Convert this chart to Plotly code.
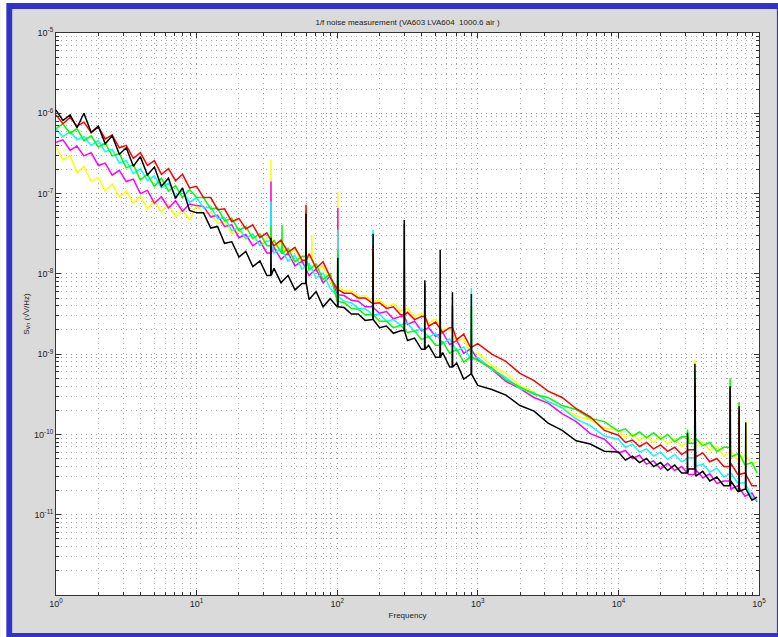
import plotly.graph_objects as go

# Frequency grid (Hz)
freq = [1.0, 1.12, 1.26, 1.41, 1.58, 1.78, 2.0, 2.24, 2.51, 2.82, 3.16, 3.55, 3.98, 4.47, 5.01, 5.62, 6.31, 7.08, 7.94, 8.91,
        10.0, 11.2, 12.6, 14.1, 15.8, 17.8, 20.0, 22.4, 25.1, 28.2, 31.6, 35.5, 39.8, 44.7, 50.1, 56.2, 63.1, 70.8, 79.4, 89.1,
        100, 112, 126, 141, 158, 178, 200, 224, 251, 282, 316, 355, 398, 447, 501, 562, 631, 708, 794, 891,
        1000, 1259, 1585, 1995, 2512, 3162, 3981, 5012, 6310, 7943,
        10000, 11220, 12590, 14130, 15850, 17780, 19950, 22390, 25120, 28180, 31620, 35480, 39810, 44670, 50120,
        56230, 63100, 70790, 79430, 89130, 97000]

# log10 of noise density
red_log = [-6.02, -6.13, -6.05, -6.16, -6.11, -6.24, -6.17, -6.32, -6.27, -6.43, -6.40, -6.56, -6.49, -6.65, -6.59, -6.76, -6.69, -6.84, -6.76, -6.93,
           -6.91, -7.05, -7.05, -7.20, -7.19, -7.35, -7.31, -7.44, -7.39, -7.55, -7.49, -7.65, -7.58, -7.73, -7.67, -7.83, -7.75, -7.93, -7.85, -8.04,
           -8.19, -8.24, -8.24, -8.30, -8.30, -8.37, -8.36, -8.43, -8.41, -8.51, -8.48, -8.57, -8.53, -8.65, -8.60, -8.73, -8.67, -8.82, -8.75, -8.92,
           -8.87, -9.00, -9.09, -9.24, -9.33, -9.46, -9.54, -9.68, -9.78, -9.95,
           -10.01, -10.10, -10.07, -10.15, -10.10, -10.18, -10.13, -10.21, -10.16, -10.25, -10.19, -10.28, -10.23, -10.34, -10.30,
           -10.40, -10.36, -10.50, -10.48, -10.64, -10.64]
green_log = [-6.19, -6.13, -6.25, -6.19, -6.34, -6.28, -6.42, -6.37, -6.53, -6.50, -6.68, -6.64, -6.83, -6.76, -6.91, -6.81, -6.97, -6.90, -7.05, -6.95,
             -7.05, -7.05, -7.19, -7.18, -7.34, -7.31, -7.46, -7.41, -7.56, -7.50, -7.65, -7.58, -7.75, -7.68, -7.85, -7.78, -7.95, -7.88, -8.07, -8.00,
             -8.34, -8.36, -8.43, -8.44, -8.51, -8.51, -8.59, -8.59, -8.67, -8.64, -8.73, -8.71, -8.82, -8.78, -8.89, -8.84, -8.99, -8.94, -9.10, -9.03,
             -9.08, -9.17, -9.32, -9.41, -9.50, -9.54, -9.64, -9.69, -9.80, -9.84,
             -9.96, -9.93, -10.02, -9.97, -10.04, -9.98, -10.06, -10.00, -10.09, -10.03, -10.11, -10.05, -10.14, -10.10, -10.21,
             -10.16, -10.28, -10.24, -10.38, -10.35, -10.48]
cyan_log = [-6.20, -6.29, -6.23, -6.33, -6.29, -6.40, -6.34, -6.48, -6.45, -6.62, -6.59, -6.75, -6.69, -6.84, -6.78, -6.93, -6.87, -7.03, -6.96, -7.11,
            -7.05, -7.18, -7.17, -7.31, -7.30, -7.46, -7.43, -7.56, -7.50, -7.65, -7.59, -7.74, -7.69, -7.84, -7.77, -7.94, -7.87, -8.05, -7.99, -8.18,
            -8.28, -8.34, -8.36, -8.43, -8.43, -8.51, -8.50, -8.59, -8.57, -8.64, -8.61, -8.72, -8.68, -8.79, -8.74, -8.87, -8.81, -8.96, -8.91, -9.07,
            -9.04, -9.19, -9.29, -9.43, -9.48, -9.59, -9.67, -9.81, -9.89, -10.02,
            -10.06, -10.16, -10.12, -10.22, -10.18, -10.27, -10.22, -10.31, -10.25, -10.34, -10.29, -10.40, -10.37, -10.47, -10.42,
            -10.53, -10.48, -10.61, -10.60, -10.78, -10.82]
magenta_log = [-6.36, -6.33, -6.46, -6.41, -6.53, -6.49, -6.65, -6.62, -6.77, -6.71, -6.85, -6.82, -7.00, -6.96, -7.12, -7.04, -7.18, -7.09, -7.22, -7.13,
               -7.15, -7.16, -7.29, -7.27, -7.41, -7.39, -7.55, -7.51, -7.65, -7.59, -7.74, -7.67, -7.82, -7.74, -7.90, -7.84, -8.02, -7.94, -8.11, -8.03,
               -8.26, -8.27, -8.33, -8.34, -8.41, -8.41, -8.49, -8.47, -8.56, -8.53, -8.63, -8.59, -8.71, -8.67, -8.78, -8.73, -8.88, -8.83, -8.99, -8.93,
               -9.07, -9.19, -9.34, -9.43, -9.54, -9.61, -9.74, -9.84, -9.99, -10.06,
               -10.23, -10.20, -10.30, -10.26, -10.37, -10.33, -10.43, -10.36, -10.45, -10.40, -10.50, -10.44, -10.54, -10.49, -10.61,
               -10.58, -10.68, -10.64, -10.77, -10.73, -10.84]
yellow_log = [-6.42, -6.58, -6.53, -6.74, -6.66, -6.85, -6.80, -6.97, -6.88, -7.04, -6.97, -7.12, -7.03, -7.19, -7.09, -7.23, -7.13, -7.29, -7.20, -7.33,
              -7.15, -7.25, -7.23, -7.37, -7.35, -7.50, -7.45, -7.57, -7.50, -7.64, -7.55, -7.69, -7.61, -7.76, -7.69, -7.87, -7.79, -7.97, -7.90, -8.10,
              -8.16, -8.21, -8.21, -8.28, -8.27, -8.34, -8.33, -8.41, -8.37, -8.46, -8.43, -8.53, -8.49, -8.61, -8.56, -8.70, -8.67, -8.84, -8.81, -8.99,
              -8.99, -9.14, -9.24, -9.39, -9.47, -9.60, -9.67, -9.77, -9.82, -9.92,
              -9.95, -10.04, -9.99, -10.08, -10.02, -10.10, -10.02, -10.12, -10.05, -10.15, -10.07, -10.15, -10.09, -10.20, -10.15,
              -10.27, -10.21, -10.32, -10.26, -10.38, -10.34]
black_log = [-5.96, -6.09, -6.02, -6.18, -6.00, -6.24, -6.16, -6.38, -6.28, -6.51, -6.43, -6.66, -6.54, -6.77, -6.67, -6.91, -6.81, -7.06, -6.93, -7.21,
             -7.24, -7.24, -7.43, -7.41, -7.62, -7.60, -7.79, -7.72, -7.91, -7.84, -8.02, -7.93, -8.11, -8.02, -8.20, -8.12, -8.32, -8.22, -8.41, -8.31,
             -8.41, -8.42, -8.50, -8.50, -8.58, -8.57, -8.67, -8.65, -8.74, -8.71, -8.83, -8.80, -8.94, -8.89, -9.04, -8.98, -9.16, -9.11, -9.31, -9.25,
             -9.39, -9.44, -9.51, -9.64, -9.71, -9.86, -9.95, -10.08, -10.12, -10.21,
             -10.22, -10.32, -10.27, -10.35, -10.30, -10.40, -10.35, -10.45, -10.38, -10.48, -10.43, -10.52, -10.46, -10.58, -10.53,
             -10.64, -10.58, -10.71, -10.68, -10.82, -10.78]

# Narrow interference peaks (Hz) and their tops per series (log10; None = no peak)
spike_freq = [33.8, 40.5, 60, 66, 101, 180, 300, 420, 540, 660, 900, 31000, 35000, 62300, 72200, 80500]
yellow_spk = [-6.58, None, None, -7.52, -6.98, None, None, None, None, None, None, None, -9.07, None, -9.60, -9.82]
magenta_spk = [-6.85, None, None, None, -7.18, None, -8.05, None, None, None, None, None, -9.30, -9.55, None, None]
cyan_spk = [-7.10, None, None, None, -7.45, -7.45, None, None, None, None, -8.18, None, -9.45, None, None, None]
green_spk = [-7.40, -7.39, -7.20, None, -7.70, -7.80, None, None, -8.20, None, -8.40, -9.94, -9.20, -9.30, -9.60, None]
red_spk = [None, None, -7.14, None, None, -7.65, -7.38, -8.12, None, -8.40, None, None, -9.35, -9.45, -9.70, None]
black_spk = [-7.55, None, -7.25, None, -7.80, -7.50, -7.33, -8.08, -7.70, -8.23, -8.25, -9.98, -9.12, -9.40, -9.65, -9.85]

series = [
    ("yellow", "#ffff00", yellow_log, yellow_spk),
    ("magenta", "#ff00ff", magenta_log, magenta_spk),
    ("cyan", "#00ffff", cyan_log, cyan_spk),
    ("green", "#00ff00", green_log, green_spk),
    ("red", "#ff0000", red_log, red_spk),
    ("black", "#000000", black_log, black_spk),
]

x_tickvals = [1, 10, 100, 1000, 10000, 100000]
x_ticktext = ["10<sup>0</sup>", "10<sup>1</sup>", "10<sup>2</sup>", "10<sup>3</sup>", "10<sup>4</sup>", "10<sup>5</sup>"]
y_tickvals = [1e-5, 1e-6, 1e-7, 1e-8, 1e-9, 1e-10, 1e-11]
y_ticktext = ["10<sup>-5</sup>", "10<sup>-6</sup>", "10<sup>-7</sup>", "10<sup>-8</sup>", "10<sup>-9</sup>", "10<sup>-10</sup>", "10<sup>-11</sup>"]


def build(base, spikes):
    assert len(base) == len(freq)
    pts = list(zip(freq, base))
    for fs, h in zip(spike_freq, spikes):
        if h is None:
            continue
        prev = [v for f, v in zip(freq, base) if f < fs][-1]
        pts += [(fs * 0.996, prev), (fs, h), (fs * 1.004, prev)]
    pts.sort()
    return [p[0] for p in pts], [10 ** p[1] for p in pts]


fig = go.Figure()
for name, color, base, spk in series:
    xs, ys = build(base, spk)
    fig.add_trace(go.Scatter(x=xs, y=ys, mode="lines", name=name,
                             line=dict(color=color, width=1.5), showlegend=False))

font = "Liberation Sans, Arial, Helvetica, sans-serif"
grid = dict(showgrid=True, gridcolor="#9a9a9a", gridwidth=1, griddash="1px,4px")
minor = dict(ticks="inside", ticklen=3, tickcolor="#333333", showgrid=True,
             gridcolor="#a8a8a8", griddash="1px,4px", dtick="D1")

fig.update_xaxes(type="log", range=[0, 5], tickvals=x_tickvals, ticktext=x_ticktext,
                 ticks="inside", ticklen=5, tickcolor="#333333", showline=True,
                 linecolor="#333333", linewidth=1, mirror="allticks", zeroline=False,
                 tickfont=dict(family=font, size=9, color="#222222"),
                 title=dict(text="Frequency", font=dict(family=font, size=8, color="#222222"), standoff=4),
                 minor=minor, **grid)
fig.update_yaxes(type="log", range=[-12, -5], tickvals=y_tickvals, ticktext=y_ticktext,
                 ticks="inside", ticklen=5, tickcolor="#333333", showline=True,
                 linecolor="#333333", linewidth=1, mirror="allticks", zeroline=False,
                 tickfont=dict(family=font, size=9, color="#222222"),
                 title=dict(text="S<sub>Vn</sub> (√V/Hz)", font=dict(family=font, size=8, color="#222222"), standoff=3),
                 minor=minor, **grid)

fig.update_layout(
    width=778, height=637,
    margin=dict(l=56, r=16, t=33, b=42),
    paper_bgcolor="#dadada", plot_bgcolor="#ffffff",
    title=dict(text="1/f noise measurement (VA603 LVA604  1000.6 air )",
               font=dict(family=font, size=8, color="#222222"),
               x=0.5, xref="paper", xanchor="center", y=1 - 22 / 637, yref="container", yanchor="middle"),
    shapes=[
        dict(type="rect", xref="paper", yref="paper", x0=(9 - 56) / 706, x1=(783 - 56) / 706,
             y0=(595 - 636) / 562, y1=(595 - 6) / 562, line=dict(color="#3232c8", width=6),
             fillcolor="rgba(0,0,0,0)", layer="above"),
        dict(type="rect", xref="paper", yref="paper", x0=(0 - 56) / 706, x1=(6 - 56) / 706,
             y0=(595 - 640) / 562, y1=(595 + 5) / 562, line=dict(width=0),
             fillcolor="#ffffff", layer="above"),
        dict(type="rect", xref="paper", yref="paper", x0=(0 - 56) / 706, x1=(790 - 56) / 706,
             y0=(595 - 3) / 562, y1=(595 + 5) / 562, line=dict(width=0),
             fillcolor="#ffffff", layer="above"),
    ],
)

fig.write_html("out.html")
